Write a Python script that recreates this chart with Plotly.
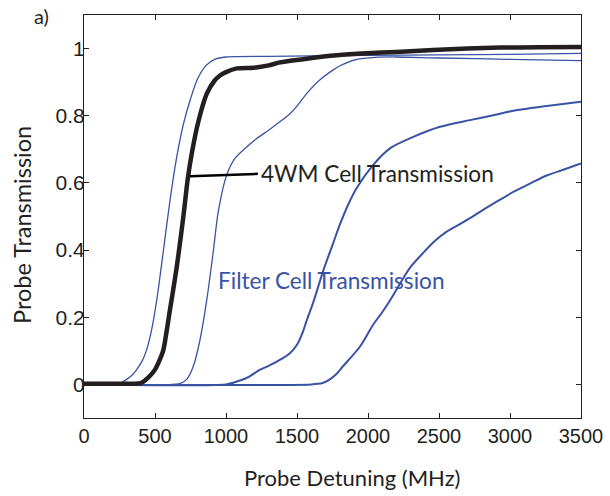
import plotly.graph_objects as go

# Probe detuning (MHz) and measured transmission for each trace
filter_a_x = [0, 250, 300, 340, 371, 410, 441, 475, 512, 559, 605, 650, 700, 750, 800, 860, 920, 1000, 1300, 1600, 2000, 2500, 3000, 3500]
filter_a_y = [0, 0.003, 0.015, 0.028, 0.044, 0.07, 0.103, 0.16, 0.25, 0.398, 0.546, 0.67, 0.775, 0.85, 0.91, 0.95, 0.968, 0.975, 0.977, 0.978, 0.98, 0.981, 0.983, 0.986]

fwm_x = [0, 200, 400, 430, 470, 500, 530, 559, 605, 653, 699, 730, 760, 805, 864, 920, 958, 1000, 1075, 1192, 1300, 1380, 1568, 1780, 1990, 2200, 2458, 2700, 2930, 3200, 3500]
fwm_y = [0.002, 0.002, 0.004, 0.012, 0.028, 0.044, 0.07, 0.103, 0.221, 0.349, 0.497, 0.61, 0.69, 0.782, 0.865, 0.905, 0.92, 0.93, 0.941, 0.943, 0.95, 0.959, 0.97, 0.98, 0.986, 0.99, 0.996, 1.0, 1.003, 1.004, 1.005]

filter_b_x = [0, 680, 723, 770, 817, 864, 911, 946, 1005, 1063, 1140, 1216, 1300, 1380, 1450, 1498, 1568, 1662, 1750, 1803, 1920, 2050, 2200, 2500, 3000, 3500]
filter_b_y = [0, 0.003, 0.015, 0.054, 0.133, 0.25, 0.398, 0.516, 0.624, 0.673, 0.705, 0.732, 0.757, 0.782, 0.806, 0.828, 0.866, 0.907, 0.935, 0.949, 0.968, 0.974, 0.975, 0.972, 0.968, 0.964]

filter_c_x = [0, 1000, 1050, 1150, 1240, 1300, 1400, 1450, 1500, 1540, 1568, 1615, 1685, 1750, 1803, 1860, 1920, 2037, 2155, 2319, 2507, 2718, 2930, 3023, 3258, 3500]
filter_c_y = [0, 0, 0.005, 0.02, 0.044, 0.055, 0.078, 0.093, 0.118, 0.155, 0.19, 0.245, 0.339, 0.415, 0.477, 0.535, 0.585, 0.654, 0.703, 0.737, 0.767, 0.787, 0.806, 0.815, 0.829, 0.842]

filter_d_x = [0, 1600, 1680, 1720, 1770, 1824, 1944, 2035, 2100, 2155, 2225, 2300, 2389, 2470, 2554, 2650, 2718, 2800, 2930, 3023, 3150, 3258, 3380, 3500]
filter_d_y = [0, 0, 0.004, 0.012, 0.028, 0.054, 0.113, 0.177, 0.215, 0.25, 0.30, 0.35, 0.392, 0.427, 0.455, 0.478, 0.495, 0.517, 0.55, 0.573, 0.60, 0.622, 0.64, 0.658]

x_ticks = [0, 500, 1000, 1500, 2000, 2500, 3000, 3500]
y_ticks = [0, 0.2, 0.4, 0.6, 0.8, 1]
y_tick_text = ["0", "0.2", "0.4", "0.6", "0.8", "1"]

# leader line from the 4WM trace to its label (data coordinates)
leader_start = (746, 0.62)
leader_end = (1225, 0.627)

BLUE = "#3953a4"
DARK = "#231f20"
TEXT_FONT = "Lato"
TICK_FONT = "Liberation Sans"

W, H = 610, 496
ML, MR, MT, MB = 84, 29, 15, 78
PW, PH = W - ML - MR, H - MT - MB


def px(x, y):
    """Pixel position on the page -> paper coordinates."""
    return (x - ML) / PW, (H - MB - y) / PH


fig = go.Figure()

blue_traces = [
    (filter_a_x, filter_a_y, 1.3),
    (filter_b_x, filter_b_y, 1.3),
    (filter_c_x, filter_c_y, 2.0),
    (filter_d_x, filter_d_y, 2.0),
]
for xs, ys, w in blue_traces:
    fig.add_trace(go.Scatter(
        x=xs, y=ys, mode="lines",
        line=dict(color=BLUE, width=w, shape="spline", smoothing=0.8),
        showlegend=False, hoverinfo="skip",
    ))

fig.add_trace(go.Scatter(
    x=fwm_x, y=fwm_y, mode="lines",
    line=dict(color=DARK, width=4.5, shape="spline", smoothing=0.6),
    showlegend=False, hoverinfo="skip",
))

fig.add_shape(type="line", xref="x", yref="y",
              x0=leader_start[0], y0=leader_start[1],
              x1=leader_end[0], y1=leader_end[1],
              line=dict(color="black", width=2.5))

annotations = []


def label(text, x, y, size, color=DARK, xanchor="center", angle=0, font=TEXT_FONT):
    ax, ay = px(x, y)
    annotations.append(dict(
        text=text, x=ax, y=ay, xref="paper", yref="paper",
        xanchor=xanchor, yanchor="middle", showarrow=False, textangle=angle,
        font=dict(family=font, size=size, color=color),
    ))


label("4WM Cell Transmission", 259, 174, 22.6, DARK, "left")
label("Filter Cell Transmission", 216, 280, 22.6, BLUE, "left")
label("Probe Detuning (MHz)", 352, 477, 22)
label("Probe Transmission", 22, 225, 23.5, angle=-90)
label("a)", 41, 16, 20)

fig.update_layout(
    width=W, height=H,
    margin=dict(l=ML, r=MR, t=MT, b=MB, pad=0, autoexpand=False),
    paper_bgcolor="white", plot_bgcolor="white", showlegend=False,
    annotations=annotations,
    xaxis=dict(
        range=[0, 3500], tickvals=x_ticks, ticks="inside", ticklen=5,
        tickcolor=DARK, tickwidth=1, showline=True, linecolor=DARK, linewidth=1.2,
        mirror="ticks", showgrid=False, zeroline=False, automargin=False,
        tickfont=dict(family=TICK_FONT, size=20, color=DARK),
    ),
    yaxis=dict(
        range=[-0.1, 1.1], tickvals=y_ticks, ticktext=y_tick_text, ticks="inside",
        ticklen=5, tickcolor=DARK, tickwidth=1, showline=True, linecolor=DARK,
        linewidth=1.2, mirror="ticks", showgrid=False, zeroline=False, automargin=False,
        ticklabelstandoff=-6,
        tickfont=dict(family=TICK_FONT, size=21, color=DARK),
    ),
)

fig.write_html("out.html")
